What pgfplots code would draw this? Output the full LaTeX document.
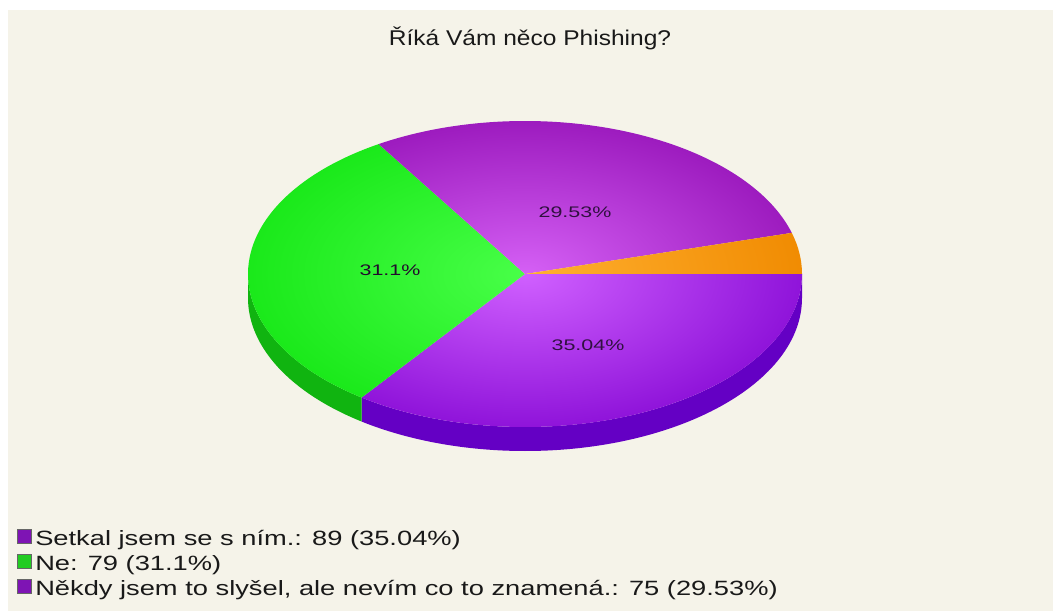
\documentclass[border=0pt]{standalone}
\usepackage{pgfplots}
\pgfplotsset{compat=1.18}
\usepackage{graphicx}
\usepackage{fontspec}
\setmainfont{Liberation Sans}
\definecolor{bgcream}{HTML}{F5F3E9}
\definecolor{purpTopEdge}{HTML}{9A18BC}
\definecolor{purpTopIn}{HTML}{D560F5}
\definecolor{purpBotEdge}{HTML}{8C10D8}
\definecolor{purpBotIn}{HTML}{D060FF}
\definecolor{purpSide}{HTML}{6400C4}
\definecolor{grnEdge}{HTML}{18E818}
\definecolor{grnIn}{HTML}{48FF48}
\definecolor{grnSide}{HTML}{10B410}
\definecolor{orgEdge}{HTML}{F08A00}
\definecolor{orgIn}{HTML}{FFB030}
\definecolor{lblcol}{HTML}{301040}
\definecolor{legPurp}{HTML}{7E14B4}
\definecolor{legGrn}{HTML}{22CC22}
% data: Setkal, Ne, Nekdy, other
\def\vA{89}\def\vB{79}\def\vC{75}\def\vD{11}
\pgfmathsetmacro{\tot}{\vA+\vB+\vC+\vD}
\pgfmathsetmacro{\aA}{-360*(\vA/\tot)}
\pgfmathsetmacro{\aB}{\aA-360*(\vB/\tot)}
\pgfmathsetmacro{\aC}{\aB-360*(\vC/\tot)}
\newcommand{\sector}[2]{(axis cs:525,337) -- ++(#1:207.75pt and 114.75pt) arc[start angle=#1, end angle=#2, x radius=207.75pt, y radius=114.75pt] -- cycle}
\newcommand{\topslice}[4]{%
  \begin{scope}
  \clip \sector{#1}{#2};
  \shade[inner color=#3, outer color=#4] (axis cs:525,337) ellipse [x radius=218pt, y radius=120.5pt];
  \end{scope}}
\newcommand{\sideslice}[3]{%
  \fill[#3] (axis cs:525,337) ++(#1:207.75pt and 114.75pt) arc[start angle=#1, end angle=#2, x radius=207.75pt, y radius=114.75pt] -- ++(0,-18pt) arc[start angle=#2, end angle=#1, x radius=207.75pt, y radius=114.75pt] -- cycle;}
\begin{document}
\begin{tikzpicture}
\begin{axis}[scale only axis, width=789.75pt, height=458.25pt,
  xmin=0, xmax=1053, ymin=0, ymax=611, hide axis, clip=false]
\fill[white] (axis cs:0,0) rectangle (axis cs:1053,611);
\fill[bgcream] (axis cs:8,0) rectangle (axis cs:1053,601);
% sides
\sideslice{\aA}{0}{purpSide}
\sideslice{-180}{\aA}{grnSide}
% tops
\topslice{0}{\aA}{purpBotIn}{purpBotEdge}
\topslice{\aA}{\aB}{grnIn}{grnEdge}
\topslice{\aB}{\aC}{purpTopIn}{purpTopEdge}
\topslice{\aC}{-360}{orgIn}{orgEdge}
% labels
\node[text=lblcol, font=\fontsize{11.5pt}{13pt}\selectfont] at (axis cs:588,266) {\scalebox{1.4}[1]{35.04\%}};
\node[text=lblcol, font=\fontsize{11.5pt}{13pt}\selectfont] at (axis cs:575,399) {\scalebox{1.4}[1]{29.53\%}};
\node[text=lblcol!70!black, font=\fontsize{11.5pt}{13pt}\selectfont] at (axis cs:390,341) {\scalebox{1.4}[1]{31.1\%}};
% title
\node[text=black!90, font=\fontsize{16pt}{18pt}\selectfont, anchor=base] at (axis cs:530,565) {\scalebox{1.15}[1]{Říká Vám něco Phishing?}};
% legend
\fill[legPurp, draw=black!60, line width=0.6pt] (axis cs:17,68) rectangle (axis cs:31,82);
\node[anchor=base west, font=\fontsize{15.5pt}{17pt}\selectfont, text=black!90, inner sep=0pt] at (axis cs:35,66) {\scalebox{1.32}[1]{Setkal jsem se s ním.: 89 (35.04\%)}};
\fill[legGrn, draw=black!60, line width=0.6pt] (axis cs:17,43) rectangle (axis cs:31,57);
\node[anchor=base west, font=\fontsize{15.5pt}{17pt}\selectfont, text=black!90, inner sep=0pt] at (axis cs:35,41) {\scalebox{1.32}[1]{Ne: 79 (31.1\%)}};
\fill[legPurp, draw=black!60, line width=0.6pt] (axis cs:17,18) rectangle (axis cs:31,32);
\node[anchor=base west, font=\fontsize{15.5pt}{17pt}\selectfont, text=black!90, inner sep=0pt] at (axis cs:35,16) {\scalebox{1.32}[1]{Někdy jsem to slyšel, ale nevím co to znamená.: 75 (29.53\%)}};
\end{axis}
\end{tikzpicture}
\end{document}
